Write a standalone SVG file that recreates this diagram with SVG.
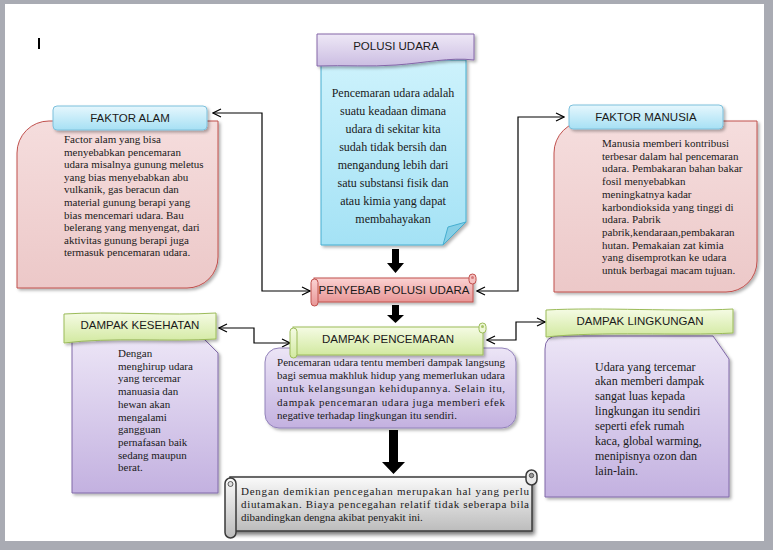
<svg xmlns="http://www.w3.org/2000/svg" width="773" height="550" viewBox="0 0 773 550">
<style>
.hd{font-family:"Liberation Sans",Arial,sans-serif;font-size:11.5px;fill:#1a1a1a;text-anchor:middle}
.bt{font-family:"Liberation Serif","Times New Roman",serif;font-size:11px;fill:#1a1a1a}
.bt12{font-family:"Liberation Serif","Times New Roman",serif;font-size:12px;fill:#1a1a1a}
.ctr{text-anchor:middle}
.con{fill:none;stroke:#000;stroke-width:1.2;marker-start:url(#ah);marker-end:url(#ah)}
.blk{fill:#000}
</style>
<defs>
<marker id="ah" markerWidth="10" markerHeight="10" refX="9" refY="5" orient="auto-start-reverse" markerUnits="userSpaceOnUse">
<path d="M1,1 L9,5 L1,9" fill="none" stroke="#000" stroke-width="1.2"/>
</marker>
<filter id="sh" x="-10%" y="-10%" width="130%" height="130%">
<feDropShadow dx="2" dy="2" stdDeviation="1.5" flood-color="#000" flood-opacity="0.3"/>
</filter>
<filter id="sh2" x="-10%" y="-10%" width="130%" height="140%">
<feDropShadow dx="2" dy="3" stdDeviation="2" flood-color="#000" flood-opacity="0.55"/>
</filter>
<linearGradient id="gBH" x1="0" y1="0" x2="0" y2="1"><stop offset="0" stop-color="#e6f7fd"/><stop offset="1" stop-color="#a6e0f4"/></linearGradient>
<linearGradient id="gPk" x1="0" y1="0" x2="0" y2="1"><stop offset="0" stop-color="#f5dddd"/><stop offset="1" stop-color="#ecc8c8"/></linearGradient>
<linearGradient id="gLv" x1="0" y1="0" x2="0" y2="1"><stop offset="0" stop-color="#eee8f6"/><stop offset="1" stop-color="#cbbde2"/></linearGradient>
<linearGradient id="gCy" x1="0" y1="0" x2="0" y2="1"><stop offset="0" stop-color="#cdf2fc"/><stop offset="1" stop-color="#a4e2f5"/></linearGradient>
<linearGradient id="gRd" x1="0" y1="0" x2="0" y2="1"><stop offset="0" stop-color="#fbd2d2"/><stop offset="1" stop-color="#e89696"/></linearGradient>
<linearGradient id="gGr" x1="0" y1="0" x2="0" y2="1"><stop offset="0" stop-color="#f5fbe4"/><stop offset="1" stop-color="#d2e9a0"/></linearGradient>
<linearGradient id="gPu" x1="0" y1="0" x2="0" y2="1"><stop offset="0" stop-color="#ece5f6"/><stop offset="1" stop-color="#c3b1e0"/></linearGradient>
<linearGradient id="gGy" x1="0" y1="0" x2="0" y2="1"><stop offset="0" stop-color="#fafafa"/><stop offset="1" stop-color="#bcbcbc"/></linearGradient>
</defs>

<!-- page -->
<rect x="0" y="0" width="773" height="550" fill="#a9abb3"/>
<rect x="5" y="4" width="759" height="537" fill="#ffffff"/>
<rect x="38" y="38" width="2" height="11" fill="#000"/>

<g id="connectors">
<path class="con" d="M213,113 H262 V291 H310"/>
<path class="con" d="M564,117 H518 V291 H477"/>
<path class="con" d="M219,328 H254 V343 H290"/>
<path class="con" d="M487,340 H516 V322 H545"/>
<path class="blk" d="M392,249 H399 V263 H404 L395.5,273 L387,263 H392 Z"/>
<path class="blk" d="M392,305 H399 V315 H404 L395.5,323 L387,315 H392 Z"/>
<path class="blk" d="M389,430 H398 V462 H405 L393.5,474 L382,462 H389 Z"/>
</g>

<g id="polusi-udara">
<path d="M321,60 H466 V222 L443,245 H321 Z" fill="url(#gCy)" stroke="#46aed0" stroke-width="1" filter="url(#sh)"/>
<path d="M443,245 L448,227 L466,222 Z" fill="#86cfe6" stroke="#46aed0" stroke-width="1"/>
<path d="M317,34 H474 V60 C450,57 425,63 396,65 C370,67 345,65 317,66 Z" fill="url(#gLv)" stroke="#8466a8" stroke-width="1" filter="url(#sh)"/>
<text class="hd" x="396" y="50">POLUSI UDARA</text>
<g class="bt12 ctr" font-size="12.5">
<text x="393" y="97">Pencemaran udara adalah</text>
<text x="393" y="115">suatu keadaan dimana</text>
<text x="393" y="133">udara di sekitar kita</text>
<text x="393" y="151">sudah tidak bersih dan</text>
<text x="393" y="168.5">mengandung lebih dari</text>
<text x="393" y="186.5">satu substansi fisik dan</text>
<text x="393" y="204.5">atau kimia yang dapat</text>
<text x="393" y="222.5">membahayakan</text>
</g>
</g>

<g id="faktor-alam">
<path d="M49,121 H218 V257 A31 31 0 0 1 187,288 H17 V153 A32 32 0 0 1 49,121 Z" fill="url(#gPk)" stroke="#c0504d" stroke-width="1" filter="url(#sh)"/>
<rect x="53" y="106" width="154" height="24" rx="4" fill="url(#gBH)" stroke="#7cc0dc" stroke-width="1" filter="url(#sh)"/>
<text class="hd" x="130" y="122">FAKTOR ALAM</text>
<g class="bt">
<text x="64" y="143">Factor alam yang bisa</text>
<text x="64" y="155.6">menyebabkan pencemaran</text>
<text x="64" y="168.2">udara misalnya gunung meletus</text>
<text x="64" y="180.8">yang bias menyebabkan abu</text>
<text x="64" y="193.4">vulkanik, gas beracun dan</text>
<text x="64" y="206">material gunung berapi yang</text>
<text x="64" y="218.6">bias mencemari udara. Bau</text>
<text x="64" y="231.2">belerang yang menyengat, dari</text>
<text x="64" y="243.8">aktivitas gunung berapi juga</text>
<text x="64" y="256.4">termasuk pencemaran udara.</text>
</g>
</g>

<g id="faktor-manusia">
<path d="M586,121 H757 V261 A31 31 0 0 1 726,292 H554 V153 A32 32 0 0 1 586,121 Z" fill="url(#gPk)" stroke="#c0504d" stroke-width="1" filter="url(#sh)"/>
<rect x="569" y="105" width="154" height="24" rx="4" fill="url(#gBH)" stroke="#7cc0dc" stroke-width="1" filter="url(#sh)"/>
<text class="hd" x="646" y="121">FAKTOR MANUSIA</text>
<g class="bt">
<text x="602" y="147">Manusia memberi kontribusi</text>
<text x="602" y="159.7">terbesar dalam hal pencemaran</text>
<text x="602" y="172.4">udara. Pembakaran bahan bakar</text>
<text x="602" y="185.1">fosil menyebabkan</text>
<text x="602" y="197.8">meningkatnya kadar</text>
<text x="602" y="210.5">karbondioksida yang tinggi di</text>
<text x="602" y="223.2">udara. Pabrik</text>
<text x="602" y="235.9">pabrik,kendaraan,pembakaran</text>
<text x="602" y="248.6">hutan. Pemakaian zat kimia</text>
<text x="602" y="261.3">yang disemprotkan ke udara</text>
<text x="602" y="274">untuk berbagai macam tujuan.</text>
</g>
</g>

<g id="penyebab-polusi-udara">
<rect x="314" y="278" width="159" height="24" fill="url(#gRd)" stroke="#c0504d" stroke-width="1" filter="url(#sh)"/>
<rect x="469" y="274" width="7" height="10" rx="3.5" fill="#f6c2c2" stroke="#c0504d" stroke-width="1"/>
<circle cx="472.5" cy="277.5" r="1.5" fill="#d67a7a"/>
<rect x="311" y="279" width="7" height="27" rx="3.5" fill="url(#gRd)" stroke="#c0504d" stroke-width="1"/>
<text class="hd" x="394" y="293.5">PENYEBAB POLUSI UDARA</text>
</g>

<g id="dampak-pencemaran">
<rect x="265" y="348" width="251" height="80" rx="14" fill="url(#gPu)" stroke="#9282ba" stroke-width="1" filter="url(#sh)"/>
<rect x="293" y="327" width="190" height="28" fill="url(#gGr)" stroke="#9bbb59" stroke-width="1" filter="url(#sh)"/>
<rect x="479" y="323" width="7" height="10" rx="3.5" fill="#eef7d6" stroke="#9bbb59" stroke-width="1"/>
<circle cx="482.5" cy="326.5" r="1.5" fill="#a8c46a"/>
<rect x="290" y="328" width="7" height="30" rx="3.5" fill="url(#gGr)" stroke="#9bbb59" stroke-width="1"/>
<text class="hd" x="388" y="343">DAMPAK PENCEMARAN</text>
<g class="bt">
<text x="277" y="366" textLength="228" lengthAdjust="spacing">Pencemaran udara tentu memberi dampak langsung</text>
<text x="277" y="379.2" textLength="228" lengthAdjust="spacing">bagi semua makhluk hidup yang memerlukan udara</text>
<text x="277" y="392.4" textLength="228" lengthAdjust="spacing">untuk kelangsungan kehidupannya. Selain itu,</text>
<text x="277" y="405.6" textLength="228" lengthAdjust="spacing">dampak pencemaran udara juga memberi efek</text>
<text x="277" y="418.8">negative terhadap lingkungan itu sendiri.</text>
</g>
</g>

<g id="dampak-kesehatan">
<path d="M72,338 H203 L218,353 V493 H72 Z" fill="url(#gPu)" stroke="#8068a8" stroke-width="1" filter="url(#sh)"/>
<path d="M64,314 C110,311 170,316 216,313 V339 C170,342 110,337 64,343 Z" fill="url(#gGr)" stroke="#9bbb59" stroke-width="1" filter="url(#sh)"/>
<text class="hd" x="140" y="329">DAMPAK KESEHATAN</text>
<g class="bt">
<text x="118" y="357">Dengan</text>
<text x="118" y="369.7">menghirup udara</text>
<text x="118" y="382.4">yang tercemar</text>
<text x="118" y="395.1">manuasia dan</text>
<text x="118" y="407.8">hewan akan</text>
<text x="118" y="420.5">mengalami</text>
<text x="118" y="433.2">gangguan</text>
<text x="118" y="445.9">pernafasan baik</text>
<text x="118" y="458.6">sedang maupun</text>
<text x="118" y="471.3">berat.</text>
</g>
</g>

<g id="dampak-lingkungan">
<path d="M558,336 H713 L729,359 V497 H545 V349 Q545,336 558,336 Z" fill="url(#gPu)" stroke="#8068a8" stroke-width="1" filter="url(#sh)"/>
<path d="M546,310 C600,307 680,312 733,309 V333 C680,336 600,331 546,337 Z" fill="url(#gGr)" stroke="#9bbb59" stroke-width="1" filter="url(#sh)"/>
<text class="hd" x="640" y="325">DAMPAK LINGKUNGAN</text>
<g class="bt12">
<text x="595" y="370.5">Udara yang tercemar</text>
<text x="595" y="385.4">akan memberi dampak</text>
<text x="595" y="400.2">sangat luas kepada</text>
<text x="595" y="415.1">lingkungan itu sendiri</text>
<text x="595" y="429.9">seperti efek rumah</text>
<text x="595" y="444.8">kaca, global warming,</text>
<text x="595" y="459.6">menipisnya ozon dan</text>
<text x="595" y="474.5">lain-lain.</text>
</g>
</g>

<g id="kesimpulan">
<rect x="230" y="477" width="302" height="54" fill="url(#gGy)" stroke="#3a3a3a" stroke-width="1.5" filter="url(#sh2)"/>
<rect x="526" y="470" width="11" height="15" rx="5.5" fill="#e8e8e8" stroke="#3a3a3a" stroke-width="1.5"/>
<circle cx="531.5" cy="475.5" r="2.2" fill="#9a9a9a" stroke="#3a3a3a" stroke-width="0.8"/>
<rect x="225" y="478" width="11" height="60" rx="5.5" fill="url(#gGy)" stroke="#3a3a3a" stroke-width="1.5"/>
<circle cx="230.5" cy="484" r="2.5" fill="#e0e0e0" stroke="#3a3a3a" stroke-width="0.8"/>
<g class="bt">
<text x="241" y="495" textLength="288" lengthAdjust="spacing">Dengan demikian pencegahan merupakan hal yang perlu</text>
<text x="241" y="508" textLength="288" lengthAdjust="spacing">diutamakan. Biaya pencegahan relatif tidak seberapa bila</text>
<text x="241" y="521">dibandingkan dengna akibat penyakit ini.</text>
</g>
</g>
</svg>
